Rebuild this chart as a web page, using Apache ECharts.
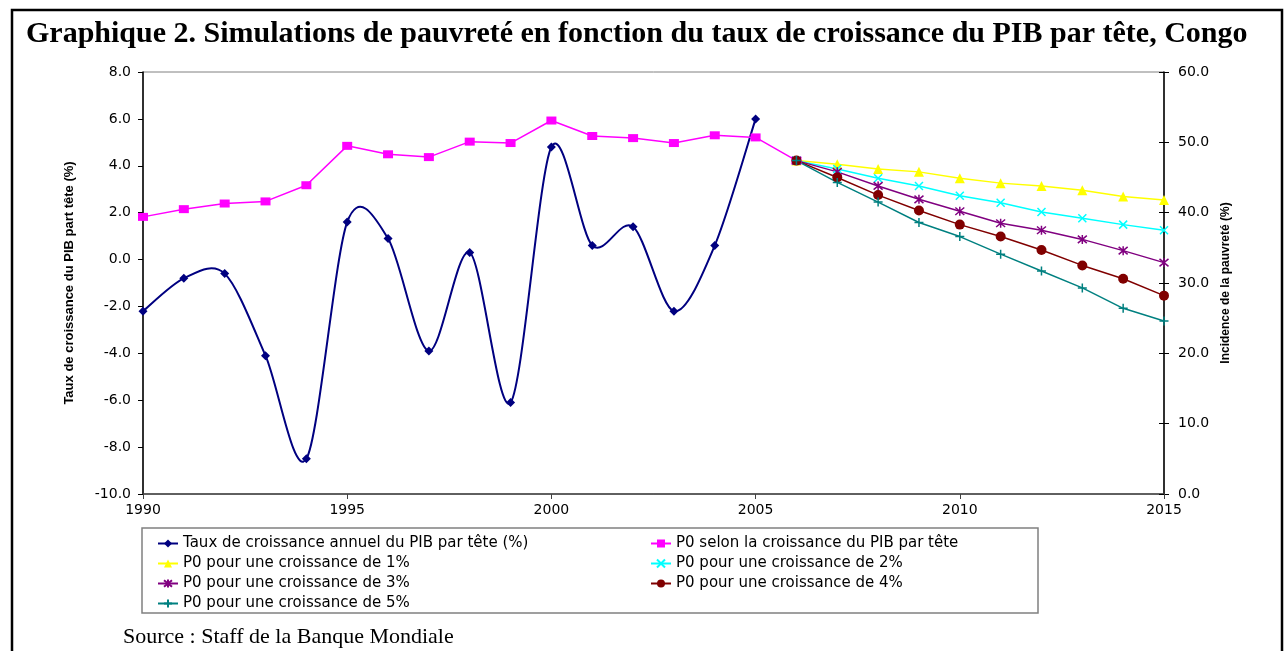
<!DOCTYPE html>
<html>
<head>
<meta charset="utf-8">
<script src="https://cdn.jsdelivr.net/npm/echarts@6/dist/echarts.min.js"></script>
<style>
html,body{margin:0;padding:0;background:#fff;}
#chart{width:1286px;height:651px;}
</style>
</head>
<body>
<div id="chart"></div>
<script>
// ---- data ----
var histYears = [1990,1991,1992,1993,1994,1995,1996,1997,1998,1999,2000,2001,2002,2003,2004,2005];
var growth = [-2.2,-0.8,-0.6,-4.1,-8.5,1.6,0.9,-3.9,0.3,-6.1,4.8,0.6,1.4,-2.2,0.6,6.0];
var p0Years = [1990,1991,1992,1993,1994,1995,1996,1997,1998,1999,2000,2001,2002,2003,2004,2005,2006];
var p0Hist = [39.4,40.5,41.3,41.6,43.9,49.5,48.3,47.9,50.1,49.9,53.1,50.9,50.6,49.9,51.0,50.7,47.4];
var projYears = [2006,2007,2008,2009,2010,2011,2012,2013,2014,2015];
var p0g1 = [47.4,46.9,46.2,45.8,44.9,44.2,43.8,43.2,42.3,41.8];
var p0g2 = [47.4,46.2,44.9,43.8,42.4,41.4,40.1,39.2,38.3,37.5];
var p0g3 = [47.4,45.8,43.8,41.9,40.2,38.5,37.5,36.2,34.6,32.9];
var p0g4 = [47.4,45.0,42.5,40.3,38.3,36.6,34.7,32.5,30.6,28.2];
var p0g5 = [47.4,44.3,41.5,38.6,36.6,34.1,31.7,29.3,26.4,24.6];
var seriesNames = [
  'Taux de croissance annuel du PIB par tête (%)',
  'P0 selon la croissance du PIB par tête',
  'P0 pour une croissance de 1%',
  'P0 pour une croissance de 2%',
  'P0 pour une croissance de 3%',
  'P0 pour une croissance de 4%',
  'P0 pour une croissance de 5%'
];
var titleText = 'Graphique 2. Simulations de pauvreté en fonction du taux de croissance du PIB par tête, Congo';
var sourceText = 'Source : Staff de la Banque Mondiale';
var leftAxisName = 'Taux de croissance du PIB part tête (%)';
var rightAxisName = 'Incidence de la pauvreté (%)';

function pairs(xs, ys){ return xs.map(function(x,i){ return [x, ys[i]]; }); }

var SANS = 'DejaVu Sans';
var NAVY = '#000080';
var chart = echarts.init(document.getElementById('chart'));

function projSeries(name, data, color, symbol, size, stroked){
  return {
    name: name, type: 'line', yAxisIndex: 1,
    data: pairs(projYears, data),
    symbol: symbol, symbolSize: size,
    lineStyle: {color: color, width: 1.5},
    itemStyle: stroked ? {color: 'none', borderColor: color, borderWidth: 1.5} : {color: color},
    color: color,
    emphasis: {disabled: true}
  };
}

// Excel-style smoothed curve (Bezier through points), drawn from data via api.coord
function smoothCurve(params, api){
  if (params.dataIndex !== 0) return null;
  var pts = histYears.map(function(x,i){ return api.coord([x, growth[i]]); });
  var children = [];
  var n = pts.length;
  var k = 1/6.5;
  for (var i = 0; i < n - 1; i++){
    var p0 = pts[Math.max(i-1,0)], p1 = pts[i], p2 = pts[i+1], p3 = pts[Math.min(i+2,n-1)];
    children.push({
      type: 'bezierCurve',
      shape: {
        x1: p1[0], y1: p1[1], x2: p2[0], y2: p2[1],
        cpx1: p1[0] + (p2[0]-p0[0])*k, cpy1: p1[1] + (p2[1]-p0[1])*k,
        cpx2: p2[0] - (p3[0]-p1[0])*k, cpy2: p2[1] - (p3[1]-p1[1])*k
      },
      style: {stroke: NAVY, lineWidth: 2, fill: null}
    });
  }
  return {type: 'group', children: children};
}

var XP = 'path://M0,0L10,10M10,0L0,10';
var AST = 'path://M0,0L10,10M10,0L0,10M5,-1L5,11';
var PLUS = 'path://M5,0L5,10M0,5L10,5';

var legendText = {fontFamily: SANS, fontSize: 15, color: '#000', lineHeight: 14};

var option = {
  animation: false,
  grid: {left: 143, right: 122, top: 72, bottom: 157, show: true, borderColor: '#808080', borderWidth: 1},
  xAxis: {
    type: 'value', min: 1990, max: 2015, interval: 5,
    axisLine: {onZero: false, lineStyle: {color: '#404040', width: 1.5}},
    axisTick: {show: true, length: 5, lineStyle: {color: '#404040'}},
    axisLabel: {color: '#000', fontFamily: SANS, fontSize: 14, margin: 9,
      formatter: function(v){ return String(v); }},
    splitLine: {show: false}
  },
  yAxis: [
    {
      type: 'value', min: -10, max: 8, interval: 2, position: 'left',
      name: leftAxisName, nameLocation: 'middle', nameGap: 67, nameRotate: 90,
      nameTextStyle: {fontFamily: 'Liberation Sans', fontWeight: 'bold', fontSize: 13, color: '#000'},
      axisLine: {show: true, onZero: false, lineStyle: {color: '#000', width: 1.5}},
      axisTick: {show: true, length: 5, lineStyle: {color: '#000'}},
      axisLabel: {color: '#000', fontFamily: SANS, fontSize: 14, margin: 12,
        formatter: function(v){ return v.toFixed(1); }},
      splitLine: {show: false}
    },
    {
      type: 'value', min: 0, max: 60, interval: 10, position: 'right',
      name: rightAxisName, nameLocation: 'middle', nameGap: 47, nameRotate: 90,
      nameTextStyle: {fontFamily: 'Liberation Sans', fontWeight: 'bold', fontSize: 12, color: '#000'},
      axisLine: {show: true, onZero: false, lineStyle: {color: '#000', width: 1.5}},
      axisTick: {show: true, length: 5, lineStyle: {color: '#000'}},
      axisLabel: {color: '#000', fontFamily: SANS, fontSize: 14, margin: 14,
        formatter: function(v){ return v.toFixed(1); }},
      splitLine: {show: false}
    },
    {
      type: 'value', min: 0, max: 60, interval: 10, position: 'right',
      axisLine: {show: false},
      axisTick: {show: true, inside: true, length: 5, lineStyle: {color: '#000'}},
      axisLabel: {show: false}, splitLine: {show: false}
    }
  ],
  legend: [
    {
      data: [{name: seriesNames[0], lineStyle: {opacity: 1}}, seriesNames[2], seriesNames[4], seriesNames[6]],
      orient: 'vertical', left: 157, top: 536, padding: 0, itemWidth: 20, itemHeight: 10, itemGap: 5,
      selectedMode: false, textStyle: legendText
    },
    {
      data: [seriesNames[1], seriesNames[3], seriesNames[5]],
      orient: 'vertical', left: 650, top: 536, padding: 0, itemWidth: 20, itemHeight: 10, itemGap: 5,
      selectedMode: false, textStyle: legendText
    }
  ],
  graphic: [
    {type: 'rect', shape: {x: 12, y: 10, width: 1270, height: 700},
     style: {fill: 'none', stroke: '#000', lineWidth: 2.5}, silent: true},
    {type: 'text', left: 26, top: 19,
     style: {text: titleText, font: 'bold 30px "Liberation Serif"', fill: '#000'}},
    {type: 'rect', shape: {x: 142, y: 528, width: 896, height: 85},
     style: {fill: 'none', stroke: '#808080', lineWidth: 1.5}, silent: true, z: -1},
    {type: 'text', left: 123, top: 626,
     style: {text: sourceText, font: '22px "Liberation Serif"', fill: '#000'}}
  ],
  series: [
    {
      name: '_curve', type: 'custom', yAxisIndex: 0,
      data: pairs(histYears, growth), renderItem: smoothCurve, silent: true, z: 2
    },
    {
      name: seriesNames[0], type: 'line', yAxisIndex: 0,
      data: pairs(histYears, growth),
      symbol: 'diamond', symbolSize: 9,
      lineStyle: {color: NAVY, width: 2, opacity: 0}, itemStyle: {color: NAVY}, color: NAVY,
      emphasis: {disabled: true}, z: 3
    },
    {
      name: seriesNames[1], type: 'line', yAxisIndex: 1,
      data: pairs(p0Years, p0Hist),
      symbol: 'rect', symbolSize: [10, 8],
      lineStyle: {color: '#FF00FF', width: 1.5}, itemStyle: {color: '#FF00FF'}, color: '#FF00FF',
      emphasis: {disabled: true}
    },
    projSeries(seriesNames[2], p0g1, '#FFFF00', 'triangle', 10, false),
    projSeries(seriesNames[3], p0g2, '#00FFFF', XP, 8, true),
    projSeries(seriesNames[4], p0g3, '#800080', AST, 9, true),
    projSeries(seriesNames[5], p0g4, '#800000', 'circle', 10, false),
    projSeries(seriesNames[6], p0g5, '#008080', PLUS, 9, true)
  ]
};
chart.setOption(option);
</script>
</body>
</html>
